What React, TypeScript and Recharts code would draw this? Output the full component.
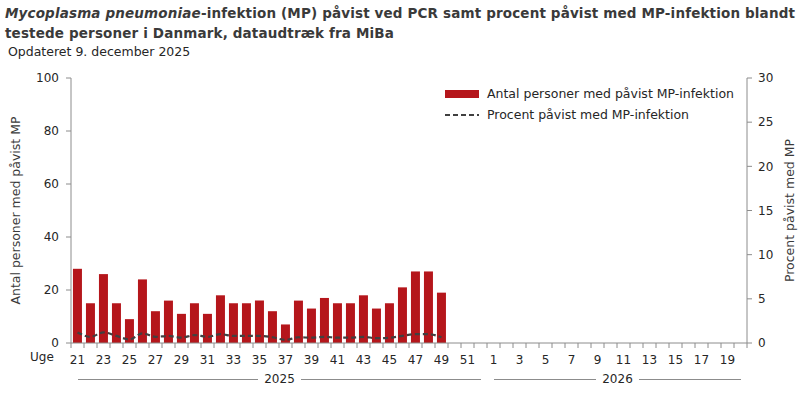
import React from "react";
import { ComposedChart, Bar, Line, XAxis, YAxis } from "recharts";

// uger 21-52 (2025) og 1-20 (2026)
const weeks: string[] = [
  "21", "22", "23", "24", "25", "26", "27", "28", "29", "30", "31", "32",
  "33", "34", "35", "36", "37", "38", "39", "40", "41", "42", "43", "44",
  "45", "46", "47", "48", "49", "50", "51", "52",
  "1", "2", "3", "4", "5", "6", "7", "8", "9", "10", "11", "12", "13",
  "14", "15", "16", "17", "18", "19", "20",
];
const years = [
  { label: "2025", count: 32 },
  { label: "2026", count: 20 },
];

// uge 21 til 49
const antal: number[] = [
  28, 15, 26, 15, 9, 24, 12, 16, 11, 15, 11, 18, 15, 15, 16, 12, 7, 16, 13,
  17, 15, 15, 18, 13, 15, 21, 27, 27, 19,
];
const procent: number[] = [
  1.2, 0.7, 1.2, 0.8, 0.4, 1.1, 0.7, 0.8, 0.6, 0.9, 0.7, 1.0, 0.8, 0.8, 0.8,
  0.65, 0.35, 0.65, 0.6, 0.7, 0.6, 0.6, 0.7, 0.55, 0.6, 0.8, 1.0, 1.0, 0.65,
];

const data = weeks.map((w, i) => ({
  uge: w,
  antal: i < antal.length ? antal[i] : null,
  procent: i < procent.length ? procent[i] : null,
}));

const W = 800;
const H = 393;
const PLOT_LEFT = 71;
const PLOT_RIGHT = 747;
const PLOT_TOP = 78;
const X_AXIS_H = 50;
const BAND = (PLOT_RIGHT - PLOT_LEFT) / weeks.length;

const FONT = "'DejaVu Sans', sans-serif";
const RED = "#B5161B";
const AXIS = "#8c8c8c";
const TEXT = "#262626";

const XTick = (props: any) => {
  const { x, y, payload, index } = props;
  return (
    <g>
      <line x1={x - BAND / 2} x2={x - BAND / 2} y1={y} y2={y + 5} stroke={AXIS} />
      {index === weeks.length - 1 && (
        <line x1={x + BAND / 2} x2={x + BAND / 2} y1={y} y2={y + 5} stroke={AXIS} />
      )}
      {index % 2 === 0 && (
        <text x={x} y={y + 21} textAnchor="middle" fontSize={12} fontFamily={FONT} fill={TEXT}>
          {payload.value}
        </text>
      )}
    </g>
  );
};

export default function App() {
  let start = 0;
  const yearBlocks = years.map((yr) => {
    const x0 = PLOT_LEFT + start * BAND + 7;
    const x1 = PLOT_LEFT + (start + yr.count) * BAND - 6;
    start += yr.count;
    return { ...yr, x0, x1 };
  });

  return (
    <div style={{ position: "absolute", left: 0, top: 0, width: W, height: H, background: "#fff", fontFamily: FONT }}>
      <div style={{ position: "absolute", left: 5, top: 3, fontSize: 13.5, letterSpacing: 0.15, fontWeight: "bold", color: "#3a3a3a", lineHeight: "20px", whiteSpace: "nowrap" }}>
        <i>Mycoplasma pneumoniae</i>-infektion (MP) påvist ved PCR samt procent påvist med MP-infektion blandt
        <br />
        testede personer i Danmark, dataudtræk fra MiBa
      </div>
      <div style={{ position: "absolute", left: 8, top: 44, fontSize: 12.5, color: TEXT }}>
        Opdateret 9. december 2025
      </div>

      <ComposedChart
        width={W}
        height={H}
        data={data}
        margin={{ top: PLOT_TOP, right: 0, bottom: 0, left: 0 }}
        barCategoryGap="15%"
      >
        <XAxis
          dataKey="uge"
          interval={0}
          height={X_AXIS_H}
          tickLine={false}
          tickSize={0}
          tickMargin={0}
          stroke={AXIS}
          tick={<XTick />}
        />
        <YAxis
          yAxisId="left"
          domain={[0, 100]}
          ticks={[0, 20, 40, 60, 80, 100]}
          width={PLOT_LEFT}
          stroke={AXIS}
          tickSize={5}
          tickMargin={7}
          tick={{ fill: TEXT, fontSize: 12, fontFamily: FONT }}
          label={{
            value: "Antal personer med påvist MP",
            angle: -90,
            position: "insideLeft",
            offset: 16,
            style: { textAnchor: "middle", fill: "#3a3a3a", fontSize: 12.5, fontFamily: FONT },
          }}
        />
        <YAxis
          yAxisId="right"
          orientation="right"
          domain={[0, 30]}
          ticks={[0, 5, 10, 15, 20, 25, 30]}
          width={W - PLOT_RIGHT}
          stroke={AXIS}
          tickSize={5}
          tickMargin={6}
          tick={{ fill: TEXT, fontSize: 12, fontFamily: FONT }}
          label={{
            value: "Procent påvist med MP",
            angle: -90,
            position: "insideRight",
            offset: 10,
            style: { textAnchor: "middle", fill: "#3a3a3a", fontSize: 12.5, fontFamily: FONT },
          }}
        />
        <Bar yAxisId="left" dataKey="antal" fill={RED} isAnimationActive={false} />
        <Line
          yAxisId="right"
          type="monotone"
          dataKey="procent"
          stroke="#404040"
          strokeWidth={2.2}
          strokeDasharray="5 3"
          dot={false}
          activeDot={false}
          isAnimationActive={false}
        />
      </ComposedChart>

      <div style={{ position: "absolute", left: 445, top: 83, fontSize: 12.5, color: TEXT, lineHeight: "21px" }}>
        <div style={{ display: "flex", alignItems: "center" }}>
          <span style={{ display: "inline-block", width: 34, height: 8, background: RED, marginRight: 8 }} />
          Antal personer med påvist MP-infektion
        </div>
        <div style={{ display: "flex", alignItems: "center" }}>
          <svg width={34} height={4} style={{ marginRight: 8 }}>
            <line x1={0} x2={34} y1={2} y2={2} stroke="#404040" strokeWidth={2} strokeDasharray="5 3" />
          </svg>
          Procent påvist med MP-infektion
        </div>
      </div>

      <div style={{ position: "absolute", left: 30, top: 350, fontSize: 12, color: TEXT }}>Uge</div>

      {yearBlocks.map((b) => (
        <div
          key={b.label}
          style={{ position: "absolute", left: b.x0, top: 372, width: b.x1 - b.x0, display: "flex", alignItems: "center", fontSize: 12, color: TEXT }}
        >
          <div style={{ flex: 1, borderTop: `1px solid ${AXIS}` }} />
          <span style={{ padding: "0 6px" }}>{b.label}</span>
          <div style={{ flex: 1, borderTop: `1px solid ${AXIS}` }} />
        </div>
      ))}
    </div>
  );
}
